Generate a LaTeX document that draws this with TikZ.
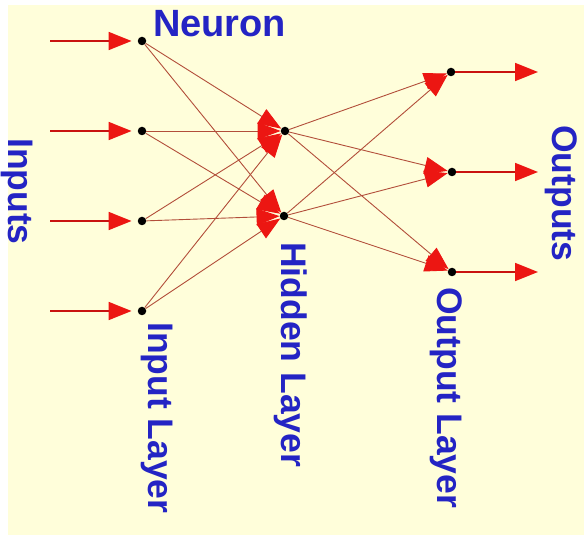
\documentclass[tikz,border=0pt]{standalone}
\usepackage{fontspec}
\setmainfont{Liberation Sans}
\usepackage{xcolor}
\usepackage{tikz}
\usetikzlibrary{arrows.meta}
\definecolor{creambg}{RGB}{255,254,218}
\definecolor{arrred}{RGB}{236,22,18}
\definecolor{wirebrown}{RGB}{178,78,58}
\definecolor{lblblue}{RGB}{36,36,196}

\begin{document}
\begin{tikzpicture}[x=1pt,y=-1pt,
   dot/.style={circle,fill=black,inner sep=0pt,minimum size=8.5pt},
   lbl/.style={inner sep=0pt,text=lblblue,font=\fontsize{35.5}{40}\selectfont\bfseries},
   io/.style={draw=arrred!85!black,line width=1.8pt,
              -{Triangle[length=23pt,width=18pt,color=arrred]}},
   wire/.style={draw=wirebrown,line width=0.9pt,
              -{Triangle[length=23pt,width=17pt,color=arrred]}}]
  \useasboundingbox (0,0) rectangle (584,537);
  \fill[white] (0,0) rectangle (584,537);
  \fill[creambg] (8,5) rectangle (584,535);

  % neurons
  \node[dot] (i1) at (142,41) {};
  \node[dot] (i2) at (142,131) {};
  \node[dot] (i3) at (142,221) {};
  \node[dot] (i4) at (142,311) {};
  \node[dot] (h1) at (285,131) {};
  \node[dot] (h2) at (284,216) {};
  \node[dot] (o1) at (451,72) {};
  \node[dot] (o2) at (452,172) {};
  \node[dot] (o3) at (452,272) {};

  % free ends of the input and output arrows
  \coordinate (a1) at (50,41);
  \coordinate (a2) at (50,131);
  \coordinate (a3) at (50,221);
  \coordinate (a4) at (50,311);
  \coordinate (b1) at (538,72);
  \coordinate (b2) at (538,172);
  \coordinate (b3) at (538,272);

  \draw[wire] (i1) edge (h1) edge (h2);
  \draw[wire] (i2) edge (h1) edge (h2);
  \draw[wire] (i3) edge (h1) edge (h2);
  \draw[wire] (i4) edge (h1) edge (h2);
  \draw[wire] (h1) edge (o1) edge (o2) edge (o3);
  \draw[wire] (h2) edge (o1) edge (o2) edge (o3);

  \draw[io,shorten >=6pt] (a1) -- (i1);
  \draw[io,shorten >=6pt] (a2) -- (i2);
  \draw[io,shorten >=6pt] (a3) -- (i3);
  \draw[io,shorten >=6pt] (a4) -- (i4);
  \draw[io] (o1) -- (b1);
  \draw[io] (o2) -- (b2);
  \draw[io] (o3) -- (b3);

  % labels
  \node[lbl,anchor=base west,font=\fontsize{38}{42}\selectfont\bfseries] (neuron) at (153,37) {Neuron};
  \node[lbl,rotate=-90,anchor=base west] (inputs) at (9,138) {Inputs};
  \node[lbl,rotate=-90,anchor=base west] (inlayer) at (148,322) {Input Layer};
  \node[lbl,rotate=-90,anchor=base west] (hidlayer) at (281,242) {Hidden Layer};
  \node[lbl,rotate=-90,anchor=base west] (outlayer) at (437,287) {Output Layer};
  \node[lbl,rotate=-90,anchor=base west] (outputs) at (552,125) {Outputs};
\end{tikzpicture}
\end{document}
